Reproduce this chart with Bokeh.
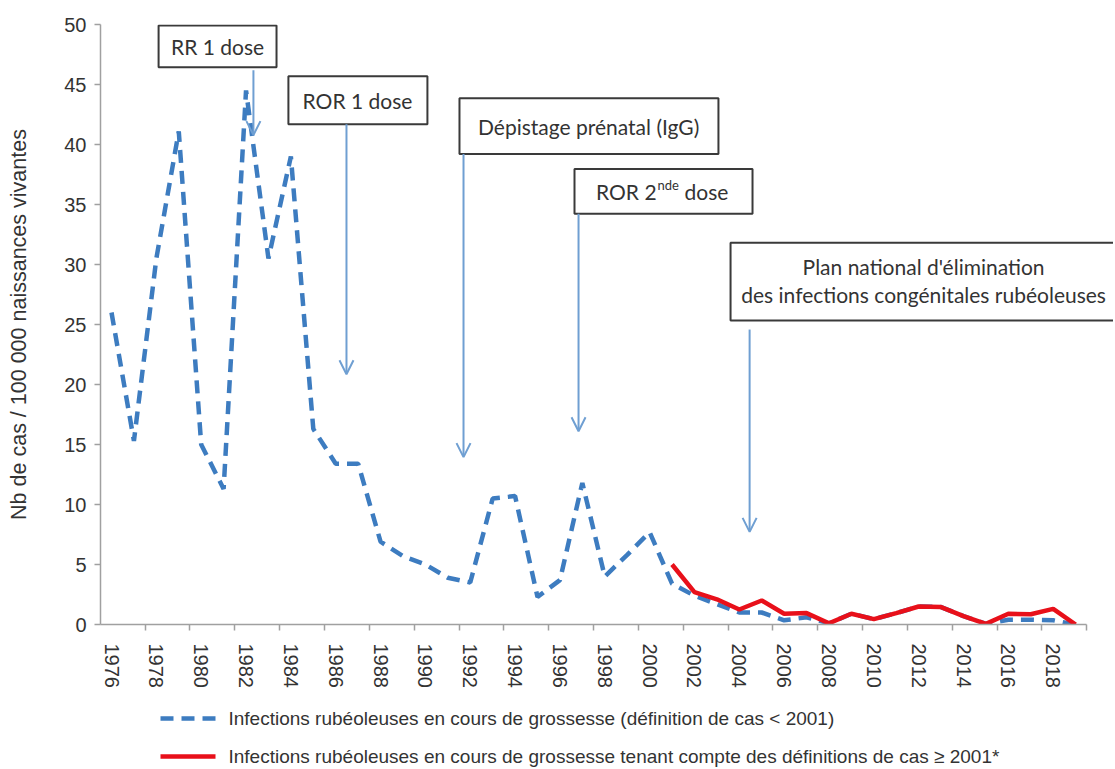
from bokeh.plotting import figure
from bokeh.layouts import column
from bokeh.models import Range1d, FixedTicker, Arrow, OpenHead
from bokeh.core.properties import value
from bokeh.embed import file_html
from bokeh.resources import INLINE

# ---------------- data ----------------
years_blue = list(range(1976, 2020))
blue_vals = [26.0, 15.3, 30.5, 41.1, 15.0, 11.3, 44.5, 30.5, 39.0, 16.3,
             13.4, 13.4, 6.9, 5.7, 5.0, 3.9, 3.5, 10.5, 10.7, 2.3,
             3.7, 11.8, 4.0, 5.8, 7.7, 3.4, 2.4, 1.7, 1.0, 1.0,
             0.35, 0.6, 0.1, 0.9, 0.45, 0.95, 1.5, 1.45, 0.7, 0.05,
             0.4, 0.4, 0.35, 0.0]
years_red = list(range(2001, 2020))
red_vals = [5.0, 2.7, 2.1, 1.25, 2.0, 0.9, 0.95, 0.1, 0.9, 0.45,
            0.95, 1.5, 1.45, 0.7, 0.05, 0.9, 0.85, 1.3, 0.0]

x_tick_years = list(range(1976, 2019, 2))
x_tick_labels = [str(y) for y in x_tick_years]
y_ticks = list(range(0, 51, 5))

label_blue = "Infections rubéoleuses en cours de grossesse (définition de cas < 2001)"
label_red = "Infections rubéoleuses en cours de grossesse tenant compte des définitions de cas ≥ 2001*"
y_title = "Nb de cas / 100 000 naissances vivantes"

box_texts = ["RR 1 dose", "ROR 1 dose", "Dépistage prénatal (IgG)"]
plan_lines = ["Plan national d'élimination", "des infections congénitales rubéoleuses"]

BLUE = "#3d7cc0"
RED = "#e8101a"
ARROW = "#6f9fd2"
AXIS = "#a0a0a0"
TXT = "#333333"
W = 1113
LEFT = 100

p = figure(width=W, height=690,
           x_range=Range1d(1975.509, 2020.69), y_range=Range1d(0, 50),
           output_backend="svg", toolbar_location=None,
           min_border_left=LEFT, min_border_right=0, min_border_top=24,
           min_border_bottom=64)
p.outline_line_color = None
p.grid.visible = False
p.background_fill_color = "white"

# series
r_blue = p.line(years_blue, blue_vals, line_color=BLUE, line_width=4.5,
                line_dash="13 8", line_cap="butt")
r_red = p.line(years_red, red_vals, line_color=RED, line_width=4.5)

# annotation boxes (data coordinates)
p.quad(left=[1978.10, 1983.89, 1991.52, 1996.65, 2003.61],
       right=[1983.36, 1990.09, 2003.07, 2004.59, 2020.78],
       top=[49.92, 45.68, 43.85, 37.96, 31.81],
       bottom=[46.43, 41.69, 39.20, 34.22, 25.33],
       fill_color="white", line_color="#3a3a3a", line_width=2)

p.text(x=[1980.73, 1986.97, 1997.28], y=[48.17, 43.69, 41.53], text=box_texts,
       text_font=value("Lato"), text_font_size="21px", text_align="center",
       text_baseline="middle", text_color=TXT)
p.text(x=[2012.22, 2012.22], y=[29.82, 27.49], text=plan_lines,
       text_font=value("Lato"), text_font_size="21px", text_align="center",
       text_baseline="middle", text_color=TXT)
# ROR 2nde dose with superscript
p.text(x=[2000.31], y=[36.05], text=["ROR 2"], text_font=value("Lato"),
       text_font_size="21px", text_align="right", text_baseline="middle",
       text_color=TXT)
p.text(x=[2000.31], y=[36.05], text=["nde"], text_font=value("Lato"),
       text_font_size="13px", text_align="left", text_baseline="middle",
       text_color=TXT, x_offset=1, y_offset=-7)
p.text(x=[2000.31], y=[36.05], text=["dose"], text_font=value("Lato"),
       text_font_size="21px", text_align="left", text_baseline="middle",
       text_color=TXT, x_offset=28)

# arrows
arrows = [(1982.33, 46.18, 40.78), (1986.48, 41.69, 20.85), (1991.70, 39.20, 13.95),
          (1996.83, 34.22, 16.11), (2004.46, 24.58, 7.72)]
for ax, ys, ye in arrows:
    p.add_layout(Arrow(end=OpenHead(size=14, line_color=ARROW, line_width=2),
                       x_start=ax, y_start=ys, x_end=ax, y_end=ye,
                       line_color=ARROW, line_width=2))

# axes
xa = p.xaxis[0]
xa.ticker = FixedTicker(ticks=x_tick_years,
                        minor_ticks=[1975.5 + 2 * k for k in range(23)])
xa.major_label_overrides = {y: l for y, l in zip(x_tick_years, x_tick_labels)}
xa.bounds = (1975.5, 2019.5)
xa.major_tick_out = 0
xa.major_tick_in = 0
xa.minor_tick_out = 6
xa.minor_tick_in = 0
xa.minor_tick_line_color = AXIS
xa.minor_tick_line_width = 1.5
xa.axis_line_color = AXIS
xa.axis_line_width = 1.5
xa.major_label_orientation = "vertical"
xa.major_label_standoff = 13
xa.major_label_text_font = "Liberation Sans"
xa.major_label_text_font_size = "20px"
xa.major_label_text_color = TXT

ya = p.yaxis[0]
ya.ticker = FixedTicker(ticks=y_ticks, minor_ticks=[])
ya.major_tick_out = 6
ya.major_tick_in = 0
ya.major_tick_line_color = AXIS
ya.major_tick_line_width = 1.5
ya.axis_line_color = AXIS
ya.axis_line_width = 1.5
ya.major_label_standoff = 8
ya.major_label_text_font = "Liberation Sans"
ya.major_label_text_font_size = "20px"
ya.major_label_text_color = TXT
ya.axis_label = y_title
ya.axis_label_text_font = "Liberation Sans"
ya.axis_label_text_font_size = "21.5px"
ya.axis_label_text_font_style = "normal"
ya.axis_label_text_color = TXT
ya.axis_label_standoff = 30

# ---------------- legend strip (pixel coordinates, frame aligned at LEFT) ----
lg = figure(width=W, height=77, x_range=Range1d(LEFT, W), y_range=Range1d(77, 0),
            output_backend="svg", toolbar_location=None,
            x_axis_location=None, y_axis_location=None,
            min_border_left=LEFT, min_border_right=0, min_border_top=0,
            min_border_bottom=0)
lg.outline_line_color = None
lg.grid.visible = False
lg.line([160, 215], [28, 28], line_color=BLUE, line_width=4.5, line_dash="13 8",
        line_cap="butt")
lg.line([160, 215], [66, 66], line_color=RED, line_width=4.5)
lg.text(x=[228, 228], y=[28, 66], text=[label_blue, label_red],
        text_font=value("Liberation Sans"), text_font_size="19px",
        text_align="left", text_baseline="middle", text_color=TXT)

open("out.html", "w").write(file_html(column(p, lg, spacing=0), INLINE))
